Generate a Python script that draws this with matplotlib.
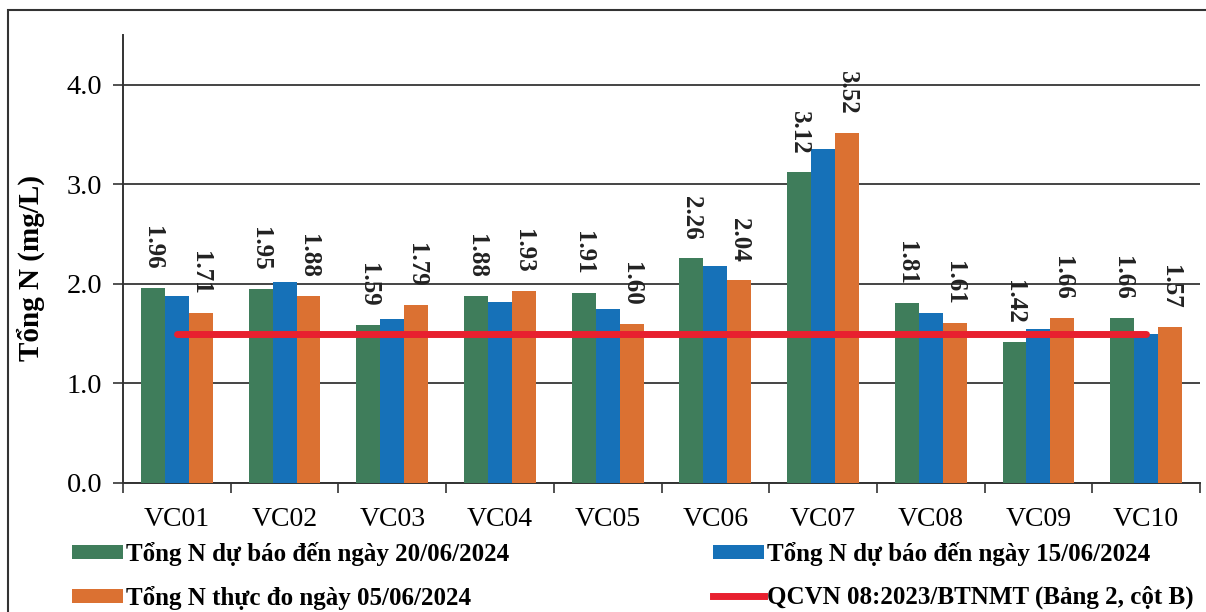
import matplotlib
matplotlib.use("Agg")
import matplotlib.pyplot as plt
import numpy as np
from matplotlib.patches import Patch, Rectangle
from matplotlib.lines import Line2D

categories = ["VC01", "VC02", "VC03", "VC04", "VC05", "VC06", "VC07", "VC08", "VC09", "VC10"]
forecast_20 = [1.96, 1.95, 1.59, 1.88, 1.91, 2.26, 3.12, 1.81, 1.42, 1.66]
forecast_15 = [1.88, 2.02, 1.65, 1.82, 1.75, 2.18, 3.35, 1.71, 1.55, 1.50]
measured_05 = [1.71, 1.88, 1.79, 1.93, 1.60, 2.04, 3.52, 1.61, 1.66, 1.57]
qcvn_limit = 1.5
yticks = [0.0, 1.0, 2.0, 3.0, 4.0]

series_names = ["Tổng N dự báo đến ngày 20/06/2024",
                "Tổng N dự báo đến ngày 15/06/2024",
                "Tổng N thực đo ngày 05/06/2024"]
line_name = "QCVN 08:2023/BTNMT (Bảng 2, cột B)"
ylabel = "Tổng N (mg/L)"

plt.rcParams['font.family'] = ['Liberation Serif', 'DejaVu Serif']

c_green = "#3f7d5b"
c_blue = "#1671b8"
c_orange = "#db7132"
c_red = "#e8202f"

W, H = 1206, 612
fig = plt.figure(figsize=(W / 100, H / 100), dpi=100)
ax = fig.add_axes([123 / W, 1 - 483 / H, 1077 / W, 448 / H])

x = np.arange(len(categories))
bw = 0.222
b1 = ax.bar(x - bw, forecast_20, bw, color=c_green, zorder=3)
b2 = ax.bar(x, forecast_15, bw, color=c_blue, zorder=3)
b3 = ax.bar(x + bw, measured_05, bw, color=c_orange, zorder=3)
ax.plot(x, [qcvn_limit] * len(x), color=c_red, lw=5, zorder=4, solid_capstyle='round')

for bars, vals in ((b1, forecast_20), (b3, measured_05)):
    for r, v in zip(bars, vals):
        ax.annotate(f"{v:.2f}", (r.get_x() + r.get_width() / 2, v),
                    xytext=(0, 13), textcoords="offset points",
                    rotation=270, ha="center", va="bottom",
                    fontsize=18, fontweight="bold", color="#222222", zorder=5)

ax.set_xlim(-0.5, len(categories) - 0.5)
ax.set_ylim(0, 4.5)
ax.set_yticks(yticks)
ax.set_yticklabels([f"{v:.1f}" for v in yticks], fontsize=20.5)
ax.set_xticks(x)
ax.set_xticklabels(categories, fontsize=20)
ax.set_xticks(np.arange(-0.5, len(categories)), minor=True)
ax.tick_params(axis="x", which="major", length=0, pad=17)
ax.tick_params(axis="x", which="minor", length=7, width=1.2, color="#333333", direction="out")
ax.tick_params(axis="y", length=7, width=1.2, color="#333333", pad=8)
ax.yaxis.grid(True, color="#444444", lw=1.4, zorder=0)
for s in ("top", "right"):
    ax.spines[s].set_visible(False)
for s in ("left", "bottom"):
    ax.spines[s].set_color("#333333")
    ax.spines[s].set_linewidth(1.4)

fig.text(31 / W, 1 - 268 / H, ylabel, rotation=90, ha="center", va="center",
         fontsize=21, fontweight="bold")

handles = [Patch(facecolor=c_green), Patch(facecolor=c_blue),
           Patch(facecolor=c_orange), Line2D([0], [0], color=c_red, lw=5)]
labels = [series_names[0], series_names[1], series_names[2], line_name]
leg_kw = dict(loc="upper left", frameon=False, prop={"size": 18, "weight": "bold"},
              handlelength=2.05, handleheight=0.5, handletextpad=0.1,
              labelspacing=0.8, borderpad=0, borderaxespad=0)
leg1 = fig.legend([handles[0], handles[2]], [labels[0], labels[2]],
                  bbox_to_anchor=(72 / W, 1 - 542 / H), **leg_kw)
leg2 = fig.legend([handles[1], handles[3]], [labels[1], labels[3]],
                  bbox_to_anchor=(713 / W, 1 - 542 / H), **leg_kw)

fig.add_artist(Rectangle((8 / W, -0.05), 1.5, 1 - 10 / H + 0.05, transform=fig.transFigure,
                         fill=False, edgecolor="#333333", lw=1.5))

fig.savefig("out.png", dpi=100, facecolor="white")
